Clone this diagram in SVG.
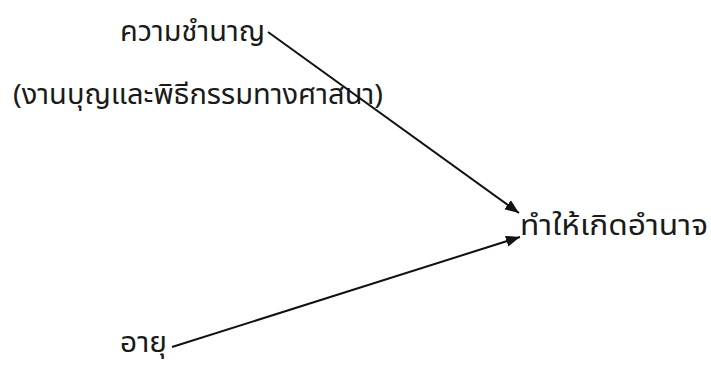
<svg xmlns="http://www.w3.org/2000/svg" width="711" height="365" viewBox="0 0 711 365">
<style>
text{font-family:"Noto Sans Thai","Noto Sans","DejaVu Sans",sans-serif;font-size:28px;fill:#1a1a1a}
.c{stroke:#111;stroke-width:2;fill:none}
</style>
<defs>
<marker id="ah" viewBox="0 0 10 10" refX="10" refY="5" markerWidth="7" markerHeight="7" markerUnits="strokeWidth" orient="auto">
<path d="M0,1 L10,5 L0,9 z" fill="#111"/>
</marker>
</defs>
<rect width="711" height="365" fill="#fff"/>
<g id="n1"><text x="120" y="41" textLength="145" lengthAdjust="spacingAndGlyphs">ความชำนาญ</text></g>
<g id="n2"><text x="13" y="104" textLength="370" lengthAdjust="spacingAndGlyphs">(งานบุญและพิธีกรรมทางศาสนา)</text></g>
<g id="n3"><text x="520" y="235" textLength="188" lengthAdjust="spacingAndGlyphs">ทำให้เกิดอำนาจ</text></g>
<g id="n4"><text x="120" y="352" font-size="26" textLength="47" lengthAdjust="spacingAndGlyphs">อายุ</text></g>
<g id="connectors">
<line class="c" x1="172" y1="347" x2="520" y2="237" marker-end="url(#ah)"/>
<line class="c" x1="268" y1="32" x2="519" y2="213" marker-end="url(#ah)"/>
</g>
</svg>
